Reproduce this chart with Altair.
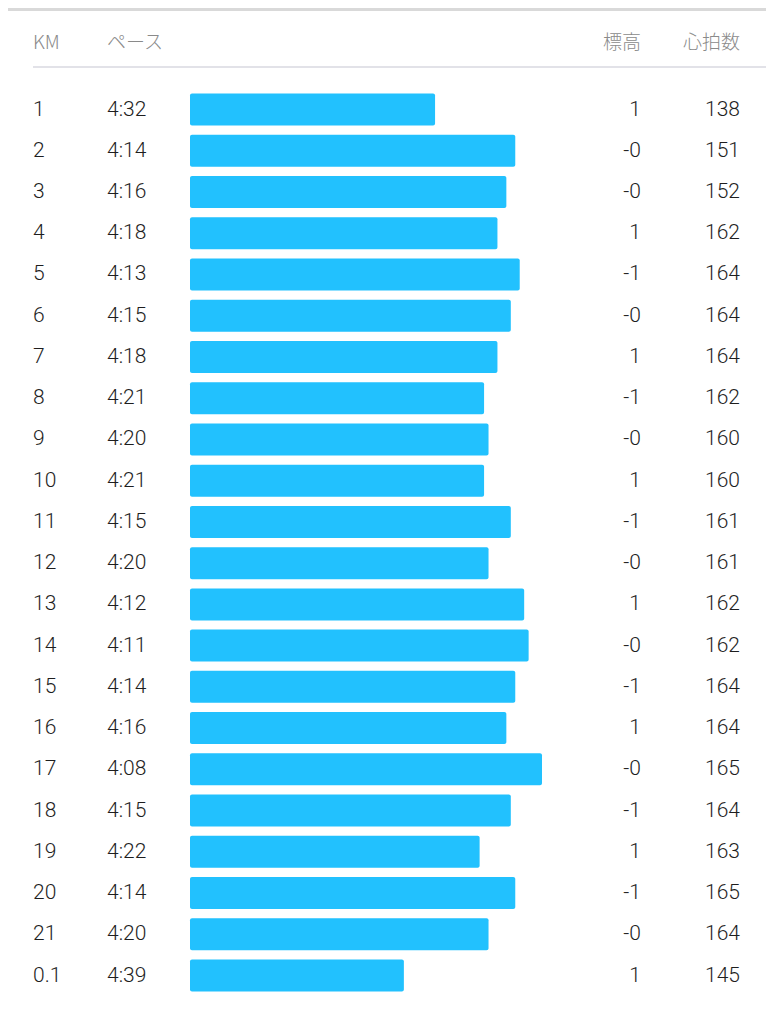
import altair as alt
import pandas as pd

km = ["1", "2", "3", "4", "5", "6", "7", "8", "9", "10", "11", "12", "13", "14",
      "15", "16", "17", "18", "19", "20", "21", "0.1"]
pace = ["4:32", "4:14", "4:16", "4:18", "4:13", "4:15", "4:18", "4:21", "4:20", "4:21",
        "4:15", "4:20", "4:12", "4:11", "4:14", "4:16", "4:08", "4:15", "4:22", "4:14",
        "4:20", "4:39"]
elev = ["1", "-0", "-0", "1", "-1", "-0", "1", "-1", "-0", "1", "-1", "-0", "1", "-0",
        "-1", "1", "-0", "-1", "1", "-1", "-0", "1"]
hr = [138, 151, 152, 162, 164, 164, 164, 162, 160, 160, 161, 161, 162, 162, 164, 164,
      165, 164, 163, 165, 164, 145]
headers = ["KM", "ペース", "標高", "心拍数"]

df = pd.DataFrame({"km": km, "pace": pace, "elev": elev, "hr": hr})
df["idx"] = range(len(df))
df["sec"] = [int(p.split(":")[0]) * 60 + int(p.split(":")[1]) for p in pace]

W, H = 758, 1008
BASE = 327  # pace (s) at which the bar length is zero
ROW = 41.24
yscale = alt.Scale(domain=[0, len(km) - 1], range=[101.5, 101.5 + ROW * (len(km) - 1)],
                   zero=False, nice=False)
xscale = alt.Scale(domain=[248, BASE], range=[182, 534], reverse=True,
                   zero=False, nice=False)

base = alt.Chart(df)

bars = base.transform_calculate(
    y0="datum.idx - 0.388", y1="datum.idx + 0.388", b=str(BASE)
).mark_rect(color="#22C1FE", cornerRadius=2).encode(
    x=alt.X("sec:Q", scale=xscale, axis=None),
    x2=alt.X2("b:Q"),
    y=alt.Y("y0:Q", scale=yscale, axis=None),
    y2=alt.Y2("y1:Q"),
)

NUMFONT = "Roboto"
FS = 21
COL = "#1e1e1e"


def col_text(field, x, align):
    return base.mark_text(font=NUMFONT, fontSize=FS, fontWeight=300, color=COL,
                          align=align, baseline="middle").encode(
        x=alt.value(x),
        y=alt.Y("idx:Q", scale=yscale, axis=None),
        text=alt.Text(f"{field}:N"),
    )


t_km = col_text("km", 25, "left")
t_pace = col_text("pace", 99, "left")
t_elev = col_text("elev", 633, "right")
t_hr = col_text("hr", 732, "right")

one = alt.Chart(pd.DataFrame({"a": [0]}))


def header(label, x, align):
    return one.mark_text(font="Noto Sans CJK JP", fontSize=19, fontWeight=300,
                         color="#8a8a8a", align=align, baseline="middle",
                         text=label).encode(x=alt.value(x), y=alt.value(35))


h_km = header(headers[0], 25, "left")
h_pace = header(headers[1], 99, "left")
h_elev = header(headers[2], 633, "right")
h_hr = header(headers[3], 732, "right")

top_rule = one.mark_rule(color="#d9d9d9", strokeWidth=3).encode(
    x=alt.value(0), x2=alt.value(W), y=alt.value(1.5))
sep_rule = one.mark_rule(color="#e2e2e8", strokeWidth=2).encode(
    x=alt.value(25), x2=alt.value(W), y=alt.value(59))

chart = alt.layer(
    top_rule, sep_rule, bars, t_km, t_pace, t_elev, t_hr, h_km, h_pace, h_elev, h_hr
).properties(
    width=W, height=H, padding=0, autosize=alt.AutoSizeParams(type="none")
).configure_view(stroke=None)

chart.save("out.html", embed_options={"renderer": "svg", "actions": False})
